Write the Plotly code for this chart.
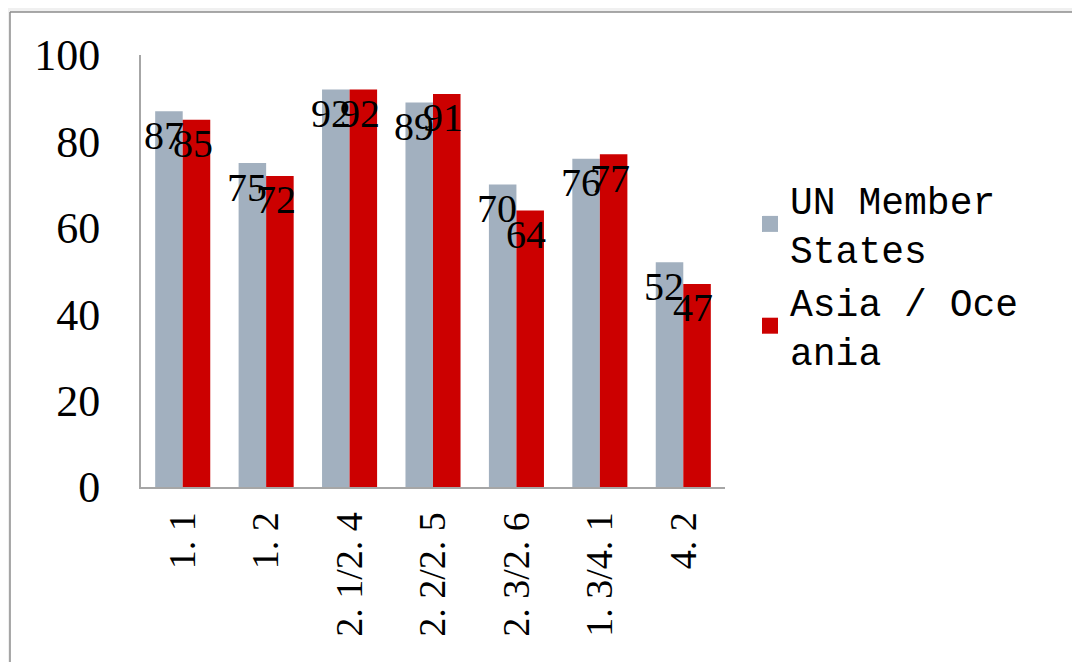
import plotly.graph_objects as go

categories = ["1.1", "1.2", "2.1/2.4", "2.2/2.5", "2.3/2.6", "1.3/4.1", "4.2"]
tick_labels = ["1. 1", "1. 2", "2. 1/2. 4", "2. 2/2. 5", "2. 3/2. 6", "1. 3/4. 1", "4. 2"]
un_values = [87, 75, 92, 89, 70, 76, 52]
asia_values = [85, 72, 92, 91, 64, 77, 47]
series_names = ["UN Member<br>States", "Asia / Oce<br>ania"]

GRAY = "#A2B0BF"
RED = "#CC0000"
SERIF = "Liberation Serif"
MONO = "Liberation Mono"

fig = go.Figure()
fig.add_trace(go.Bar(x=categories, y=un_values, name=series_names[0], showlegend=False,
                     marker=dict(color=GRAY, line=dict(width=0))))
fig.add_trace(go.Bar(x=categories, y=asia_values, name=series_names[1], showlegend=False,
                     marker=dict(color=RED, line=dict(width=0))))
# legend entries with larger square swatches
for name, col in zip(series_names, [GRAY, RED]):
    fig.add_trace(go.Scatter(x=[None], y=[None], mode="markers", name=name,
                             marker=dict(symbol="square", size=16, color=col)))

annotations = []
for i, v in enumerate(un_values):
    annotations.append(dict(x=i, y=v, xref="x", yref="y", text=str(v), showarrow=False,
                            xshift=-19, yshift=-24, font=dict(family=SERIF, size=40, color="black")))
for i, v in enumerate(asia_values):
    annotations.append(dict(x=i, y=v, xref="x", yref="y", text=str(v), showarrow=False,
                            xshift=10, yshift=-24, font=dict(family=SERIF, size=40, color="black")))

OFF = 8  # page body margin
W, H = 1080 - OFF, 662 - OFF
L, T = 141 - OFF, 55 - OFF
R = W - (725 - OFF)
B = H - (487 - OFF)
pw, ph = W - L - R, H - T - B

def px_x(p):
    return (p - OFF - L) / pw

def px_y(p):
    return (H - B - (p - OFF)) / ph

shapes = [
    dict(type="rect", xref="paper", yref="paper", x0=px_x(0), x1=px_x(1100), y0=px_y(0), y1=px_y(12),
         fillcolor="#F0F0F0", line=dict(width=0), layer="below"),
    dict(type="rect", xref="paper", yref="paper", x0=px_x(0), x1=px_x(10), y0=px_y(0), y1=px_y(700),
         fillcolor="#F0F0F0", line=dict(width=0), layer="below"),
    dict(type="line", xref="paper", yref="paper", x0=px_x(10), x1=px_x(1100), y0=px_y(12), y1=px_y(12),
         line=dict(color="#8C8C8C", width=1.5)),
    dict(type="line", xref="paper", yref="paper", x0=px_x(10), x1=px_x(10), y0=px_y(12), y1=px_y(700),
         line=dict(color="#8C8C8C", width=1.5)),
]

fig.update_layout(
    width=W, height=H,
    margin=dict(l=L, r=R, t=T, b=B, autoexpand=False),
    paper_bgcolor="white", plot_bgcolor="white",
    barmode="group", bargap=0.34, bargroupgap=0,
    showlegend=True,
    legend=dict(x=px_x(750), y=px_y(168), xanchor="left", yanchor="top",
                font=dict(family=MONO, size=38, color="black"),
                tracegroupgap=0, itemsizing="trace", bgcolor="rgba(0,0,0,0)"),
    annotations=annotations,
    shapes=shapes,
)
fig.update_xaxes(type="category", tickvals=categories, ticktext=tick_labels, tickangle=-90,
                 tickfont=dict(family=SERIF, size=38, color="black"),
                 showline=True, linecolor="#A6A6A6", linewidth=2, ticks="", showgrid=False,
                 ticklabelstandoff=8)
fig.update_yaxes(range=[0, 100], tickvals=[0, 20, 40, 60, 80, 100],
                 tickfont=dict(family=SERIF, size=44, color="black"),
                 showline=True, linecolor="#A6A6A6", linewidth=2, ticks="", showgrid=False,
                 zeroline=False, ticklabelstandoff=30)

fig.write_html("out.html")
